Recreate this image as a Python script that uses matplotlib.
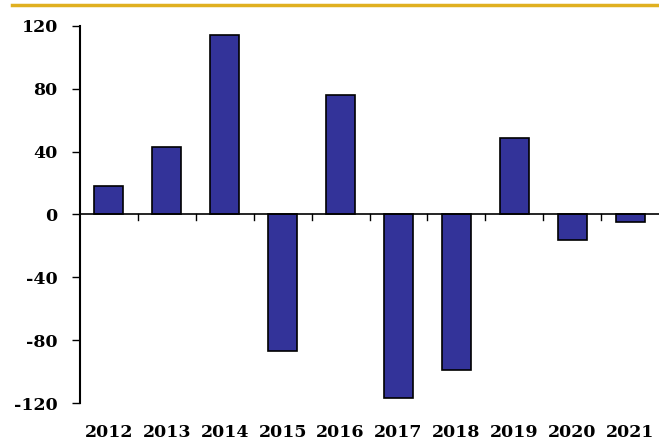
import matplotlib
matplotlib.use("Agg")
import matplotlib.pyplot as plt
from matplotlib.lines import Line2D

years = ["2012", "2013", "2014", "2015", "2016", "2017", "2018", "2019", "2020", "2021"]
values = [18, 43, 114, -87, 76, -117, -99, 49, -16, -4.5]
yticks = [-120, -80, -40, 0, 40, 80, 120]

bar_color = "#333399"
gold = "#E0B020"
font = "DejaVu Serif"

fig = plt.figure(figsize=(6.59, 4.41), dpi=100)
ax = fig.add_axes([80 / 659, 38 / 441, 579 / 659, 377 / 441])

x = list(range(len(years)))
ax.bar(x, values, width=0.5, color=bar_color, edgecolor="black", linewidth=1.2, zorder=3)

ax.set_xlim(-0.5, len(years) - 0.5)
ax.set_ylim(-120, 120)
ax.set_yticks(yticks)
ax.set_yticklabels([str(v) for v in yticks], fontfamily=font,
                   fontweight="bold", fontsize=12.5)
ax.tick_params(axis="y", length=6, width=1, pad=10, direction="out")

for s in ["top", "right", "bottom"]:
    ax.spines[s].set_visible(False)
ax.spines["left"].set_linewidth(1.5)

# zero line with category separators
ax.axhline(0, color="black", linewidth=1.2, zorder=4)
for b in range(1, len(years)):
    ax.plot([b - 0.5, b - 0.5], [0, -3.5], color="black", linewidth=1, zorder=4)

ax.set_xticks(x)
ax.set_xticklabels(years, fontfamily=font, fontweight="bold", fontsize=12.5)
ax.tick_params(axis="x", length=0, pad=15)

# gold top rule
fig.add_artist(Line2D([12 / 659, 1.0], [1 - 5 / 441, 1 - 5 / 441], color=gold,
                      linewidth=2.5, transform=fig.transFigure))

fig.savefig("out.png", dpi=100)
